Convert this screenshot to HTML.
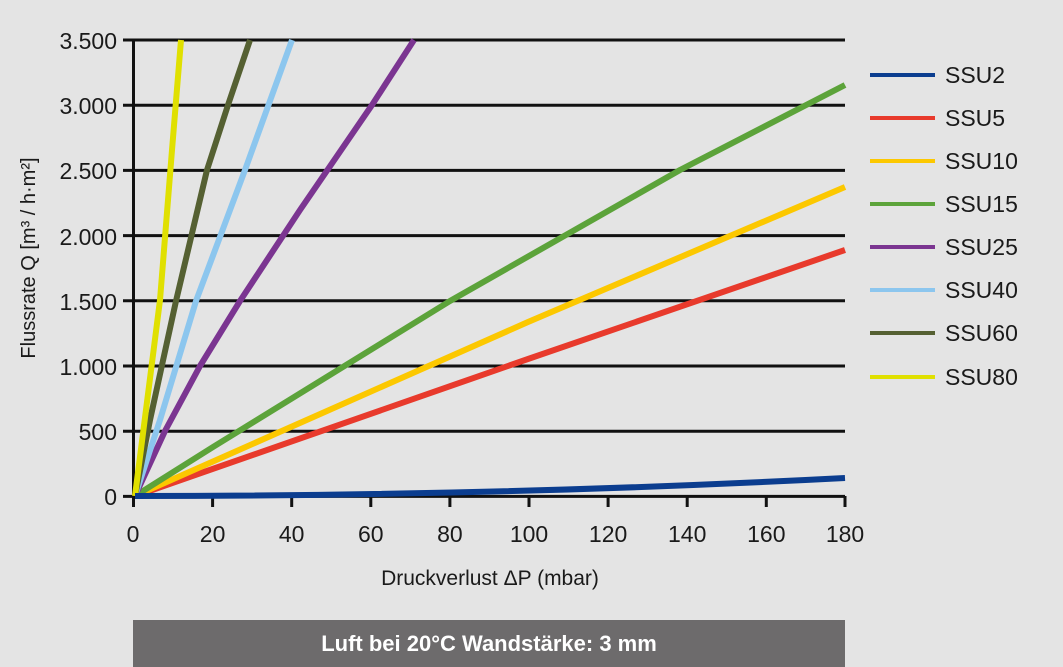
<!DOCTYPE html><html><head><style>body{margin:0;background:#e4e4e4}svg{display:block}text{font-family:"Liberation Sans",sans-serif;fill:#1a1a1a}</style></head><body>
<svg width="1063" height="667" viewBox="0 0 1063 667">
<rect width="1063" height="667" fill="#e4e4e4"/>
<g stroke="#111" stroke-width="3">
<line x1="123" y1="40" x2="845" y2="40"/><line x1="123" y1="105.2" x2="845" y2="105.2"/><line x1="123" y1="170.4" x2="845" y2="170.4"/><line x1="123" y1="235.6" x2="845" y2="235.6"/><line x1="123" y1="300.8" x2="845" y2="300.8"/><line x1="123" y1="366" x2="845" y2="366"/><line x1="123" y1="431.2" x2="845" y2="431.2"/><line x1="123" y1="496.4" x2="845" y2="496.4"/>
<line x1="133.5" y1="40" x2="133.5" y2="507"/>
<line x1="212.6" y1="496" x2="212.6" y2="507"/><line x1="291.7" y1="496" x2="291.7" y2="507"/><line x1="370.8" y1="496" x2="370.8" y2="507"/><line x1="449.9" y1="496" x2="449.9" y2="507"/><line x1="529" y1="496" x2="529" y2="507"/><line x1="608.1" y1="496" x2="608.1" y2="507"/><line x1="687.2" y1="496" x2="687.2" y2="507"/><line x1="766.3" y1="496" x2="766.3" y2="507"/><line x1="845" y1="496" x2="845" y2="507"/>
</g>
<g fill="none" stroke-width="6" stroke-linejoin="round">
<polyline stroke="#e83a2c" points="135,496 528,359 845,250"/>
<polyline stroke="#fcc800" points="135,496 528,322 845,187"/>
<polyline stroke="#5ca33a" points="135,496 213,447 450,301 680,170 845,85"/>
<polyline stroke="#7b3591" points="135,496 165,431 200,366 240,301 300,210 372,105 414,40"/>
<polyline stroke="#8cc6ee" points="135,496 160,420 196,301 245,170 292,40"/>
<polyline stroke="#556032" points="135,496 150,420 176,301 207,170 228,105 250,40"/>
<polyline stroke="#e0e000" points="135,496 160,300 172,150 181,40"/>
<path stroke="#0b3d8f" d="M135,496 Q500,496 845,478"/>
</g>
<g font-size="23" text-anchor="end">
<text x="117" y="49">3.500</text><text x="117" y="114">3.000</text><text x="117" y="179">2.500</text><text x="117" y="245">2.000</text><text x="117" y="310">1.500</text><text x="117" y="375">1.000</text><text x="117" y="440">500</text><text x="117" y="505">0</text>
</g>
<g font-size="23" text-anchor="middle">
<text x="133" y="542">0</text><text x="212.6" y="542">20</text><text x="291.7" y="542">40</text><text x="370.8" y="542">60</text><text x="449.9" y="542">80</text><text x="529" y="542">100</text><text x="608.1" y="542">120</text><text x="687.2" y="542">140</text><text x="766.3" y="542">160</text><text x="845" y="542">180</text>
<text x="490" y="585" font-size="21">Druckverlust  ΔP (mbar)</text>
<text transform="translate(35,258) rotate(-90)" font-size="20">Flussrate Q [m³ / h·m²]</text>
</g>
<g stroke-width="4">
<line x1="870" y1="75" x2="935" y2="75" stroke="#0b3d8f"/><line x1="870" y1="118" x2="935" y2="118" stroke="#e83a2c"/><line x1="870" y1="161" x2="935" y2="161" stroke="#fcc800"/><line x1="870" y1="204" x2="935" y2="204" stroke="#5ca33a"/><line x1="870" y1="247" x2="935" y2="247" stroke="#7b3591"/><line x1="870" y1="290" x2="935" y2="290" stroke="#8cc6ee"/><line x1="870" y1="333" x2="935" y2="333" stroke="#556032"/><line x1="870" y1="377" x2="935" y2="377" stroke="#e0e000"/>
</g>
<g font-size="23">
<text x="945" y="83">SSU2</text><text x="945" y="126">SSU5</text><text x="945" y="169">SSU10</text><text x="945" y="212">SSU15</text><text x="945" y="255">SSU25</text><text x="945" y="298">SSU40</text><text x="945" y="341">SSU60</text><text x="945" y="385">SSU80</text>
</g>
<rect x="133" y="620" width="712" height="47" fill="#6d6b6c"/>
<text x="489" y="651" text-anchor="middle" font-size="22" font-weight="bold" style="fill:#fff">Luft bei 20°C  Wandstärke: 3 mm</text>
</svg></body></html>
